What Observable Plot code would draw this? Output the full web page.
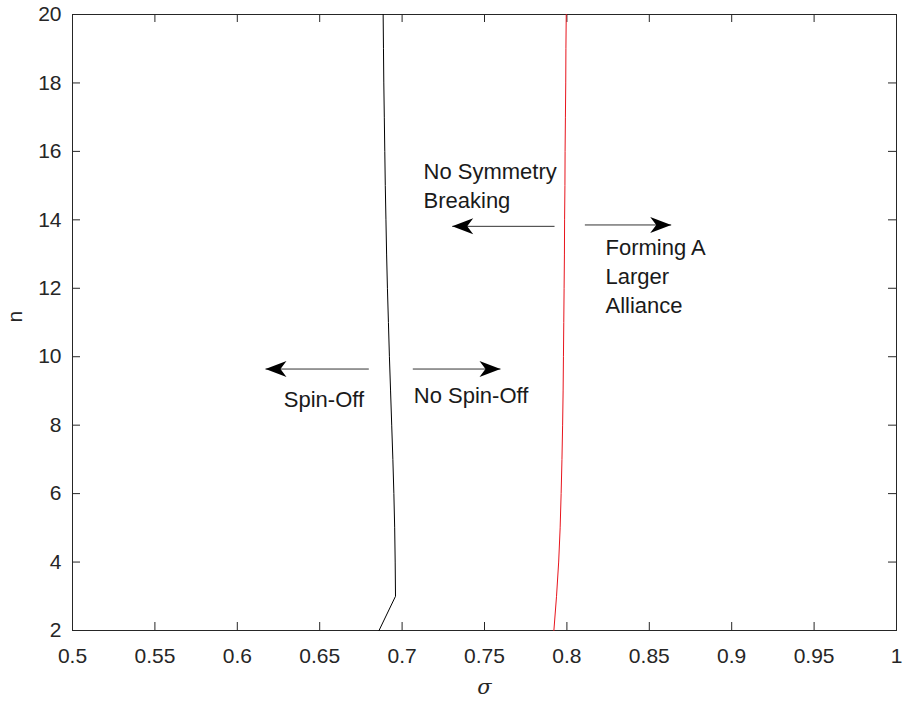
<!DOCTYPE html>
<html>
<head>
<meta charset="utf-8">
<script src="https://cdn.jsdelivr.net/npm/d3@7"></script>
<script src="https://cdn.jsdelivr.net/npm/@observablehq/plot@0.6"></script>
<style>
  html, body { margin: 0; padding: 0; background: #fff; }
  #chart { width: 907px; height: 706px; }
</style>
</head>
<body>
<div id="chart"></div>
<script>
// ---- data ----
const nValues = [2, 3, 4, 5, 6, 7, 8, 9, 10, 11, 12, 13, 14, 15, 16, 17, 18, 19, 20];
const spinOffSigma = [0.6860, 0.6960, 0.6958, 0.6955, 0.6950, 0.6944, 0.6937, 0.6930, 0.6923, 0.6917,
                      0.6911, 0.6906, 0.6902, 0.6898, 0.6895, 0.6892, 0.6889, 0.6887, 0.6885];
const symmetrySigma = [0.7921, 0.7937, 0.7950, 0.7959, 0.7965, 0.7970, 0.7974, 0.7977, 0.7979, 0.7981,
                       0.7983, 0.7985, 0.7986, 0.7988, 0.7989, 0.7991, 0.7993, 0.7994, 0.7996];

const xTicks = [0.5, 0.55, 0.6, 0.65, 0.7, 0.75, 0.8, 0.85, 0.9, 0.95, 1];
const xTickLabels = ["0.5", "0.55", "0.6", "0.65", "0.7", "0.75", "0.8", "0.85", "0.9", "0.95", "1"];
const yTicks = [2, 4, 6, 8, 10, 12, 14, 16, 18, 20];

// annotation arrows: start sigma, tip sigma, n
const arrowStart = [0.7925, 0.8109, 0.6798, 0.7065];
const arrowTip   = [0.7304, 0.8633, 0.6171, 0.7597];
const arrowN     = [13.81, 13.85, 9.64, 9.64];

// annotation texts: label, sigma (left edge), n (top)
const noteText  = ["No Symmetry\nBreaking", "Forming A\nLarger\nAlliance", "Spin-Off", "No Spin-Off"];
const noteSigma = [0.7130, 0.8234, 0.6282, 0.7071];
const noteN     = [15.79, 13.58, 9.13, 9.26];

// ---- tables ----
const spinLine = nValues.map((n, i) => ({n, s: spinOffSigma[i]}));
const symLine = nValues.map((n, i) => ({n, s: symmetrySigma[i]}));
const arrows = arrowN.map((n, i) => ({n, x1: arrowStart[i], x2: arrowTip[i], dir: arrowTip[i] > arrowStart[i] ? 0 : 180}));
const notes = noteText.map((t, i) => ({t, s: noteSigma[i], n: noteN[i]}));

const arrowHead = {
  draw(context) {
    context.moveTo(0, 0);
    context.lineTo(-21, -8);
    context.lineTo(-15, 0);
    context.lineTo(-21, 8);
    context.closePath();
  }
};

const axisColor = "#262626";
const frameH = 706 - 14 - 76;
const frameW = 907 - 72 - 11;

const chart = Plot.plot({
  width: 907,
  height: 706,
  marginLeft: 72,
  marginRight: 11,
  marginTop: 14,
  marginBottom: 76,
  style: {fontFamily: "'Liberation Sans', Arial, sans-serif", fontSize: "21px", color: axisColor, background: "#fff"},
  x: {domain: [0.5, 1], label: null},
  y: {domain: [2, 20], label: null},
  marks: [
    Plot.frame({stroke: axisColor, strokeWidth: 1}),
    // inward ticks on all four sides
    Plot.tickX(xTicks, {x: d => d, insetTop: frameH - 8, stroke: axisColor}),
    Plot.tickX(xTicks, {x: d => d, insetBottom: frameH - 8, stroke: axisColor}),
    Plot.tickY(yTicks, {y: d => d, insetRight: frameW - 8, stroke: axisColor}),
    Plot.tickY(yTicks, {y: d => d, insetLeft: frameW - 8, stroke: axisColor}),
    Plot.axisX({ticks: xTicks, tickSize: 0, tickPadding: 18, tickFormat: (d, i) => xTickLabels[i], label: null, fontSize: 21, fill: axisColor}),
    Plot.axisY({ticks: yTicks, tickSize: 0, tickPadding: 11, label: null, fontSize: 21, fill: axisColor}),
    // axis titles
    Plot.text(["σ"], {frameAnchor: "bottom", dy: 63, text: d => d, fontSize: 21, fontStyle: "italic", fontFamily: "'DejaVu Serif', serif", fill: axisColor}),
    Plot.text(["n"], {frameAnchor: "left", dx: -57, rotate: -90, text: d => d, fontSize: 21, fill: axisColor}),
    // boundary curves
    Plot.line(spinLine, {x: "s", y: "n", stroke: "black", strokeWidth: 1}),
    Plot.line(symLine, {x: "s", y: "n", stroke: "#e8141c", strokeWidth: 1}),
    // arrows
    Plot.link(arrows, {x1: "x1", x2: "x2", y1: "n", y2: "n", stroke: "#333", strokeWidth: 1}),
    Plot.dot(arrows, {x: "x2", y: "n", symbol: arrowHead, rotate: "dir", fill: "black", stroke: "none"}),
    // annotation text
    Plot.text(notes, {x: "s", y: "n", text: "t", textAnchor: "start", lineAnchor: "top", lineHeight: 1.32, fontSize: 22, fill: "#1a1a1a"})
  ]
});

document.getElementById("chart").appendChild(chart);
</script>
</body>
</html>
